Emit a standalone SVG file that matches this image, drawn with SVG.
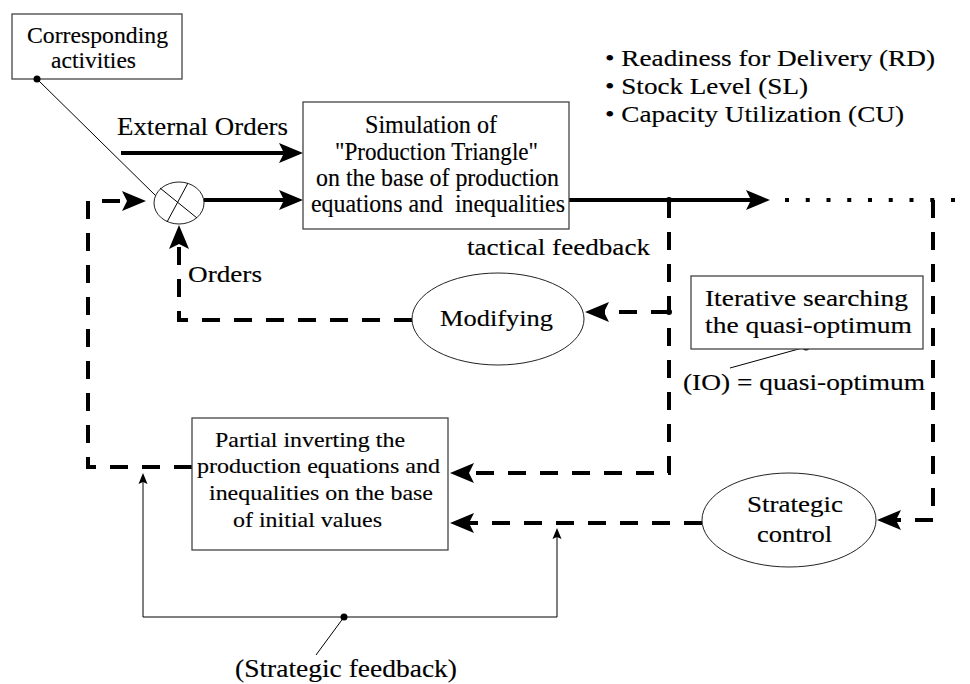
<svg xmlns="http://www.w3.org/2000/svg" width="970" height="684" viewBox="0 0 970 684">
<style>
text{font-family:"Liberation Serif","Times New Roman",serif;fill:#000;stroke:#000;stroke-width:0.15;}
.box{fill:#fff;stroke:#444;stroke-width:1.3;}
.ell{fill:#fff;stroke:#222;stroke-width:1;}
.thick{fill:none;stroke:#000;stroke-width:4;}
.dash{fill:none;stroke:#000;stroke-width:4;stroke-dasharray:18 14;}
.dot{fill:none;stroke:#000;stroke-width:4;stroke-dasharray:4 16.75;}
.thin{fill:none;stroke:#000;stroke-width:1;}
</style>
<defs>
<marker id="ah" markerUnits="userSpaceOnUse" markerWidth="26" markerHeight="22" refX="14" refY="10" orient="auto" overflow="visible">
<path d="M0,0 L24,10 L0,20 L5,10 z" fill="#000"/>
</marker>
<marker id="sh" markerUnits="userSpaceOnUse" markerWidth="12" markerHeight="10" refX="8" refY="4.5" orient="auto" overflow="visible">
<path d="M0,0 L11,4.5 L0,9 L2,4.5 z" fill="#000"/>
</marker>
</defs>
<rect width="970" height="684" fill="#fff"/>

<g id="connectors">
<line class="thin" x1="37" y1="79" x2="157" y2="197"/>
<line class="thick" x1="121" y1="153" x2="293" y2="153" marker-end="url(#ah)"/>
<line class="thick" x1="204" y1="200" x2="293" y2="200" marker-end="url(#ah)"/>
<line class="thick" x1="569" y1="200" x2="760" y2="200" marker-end="url(#ah)"/>
<line class="dot" x1="785" y1="200" x2="960" y2="200"/>
<circle cx="669" cy="200" r="3" fill="#000"/>
<polyline class="dash" points="669,200 669,473 460,473" marker-end="url(#ah)"/>
<circle cx="669" cy="312" r="3" fill="#000"/>
<line class="dash" x1="669" y1="312" x2="595" y2="312" marker-end="url(#ah)"/>
<polyline class="dash" points="933,200 933,520 887,520" marker-end="url(#ah)"/>
<line class="dash" x1="702" y1="523" x2="460" y2="523" marker-end="url(#ah)"/>
<polyline class="dash" points="412,320 179,320 179,235" marker-end="url(#ah)"/>
<polyline class="dash" points="192,467 88,467 88,201 136,201" marker-end="url(#ah)"/>
<polyline class="thin" points="143,478 143,617 557,617 557,531" marker-end="url(#sh)"/>
<line class="thin" x1="143" y1="478" x2="143" y2="476" marker-end="url(#sh)"/>
<circle cx="344" cy="617" r="3.5" fill="#000"/>
<line class="thin" x1="344" y1="617" x2="316" y2="655"/>
<circle cx="806" cy="347" r="3.5" fill="#000"/>
<line class="thin" x1="806" y1="347" x2="730" y2="368"/>
</g>

<g id="corresponding">
<rect class="box" x="12" y="14" width="170" height="65"/>
<circle cx="37" cy="79" r="3.5" fill="#000"/>
<text x="27" y="43" font-size="23" textLength="141" lengthAdjust="spacingAndGlyphs">Corresponding</text>
<text x="51" y="68" font-size="23" textLength="85" lengthAdjust="spacingAndGlyphs">activities</text>
</g>

<g id="external-orders">
<text x="117" y="135" font-size="26" textLength="171" lengthAdjust="spacingAndGlyphs">External Orders</text>
</g>

<g id="mixer">
<ellipse class="ell" cx="179" cy="203" rx="25" ry="21"/>
<line class="thin" x1="160" y1="188" x2="197" y2="218"/>
<line class="thin" x1="188" y1="183" x2="167" y2="222"/>
</g>

<g id="simulation">
<rect class="box" x="303" y="102" width="266" height="127"/>
<text x="365" y="133" font-size="25" textLength="132" lengthAdjust="spacingAndGlyphs">Simulation of</text>
<text x="335" y="160" font-size="25" textLength="203" lengthAdjust="spacingAndGlyphs">"Production Triangle"</text>
<text x="316" y="186" font-size="25" textLength="243" lengthAdjust="spacingAndGlyphs">on the base of production</text>
<text x="311" y="212" font-size="25" textLength="254" lengthAdjust="spacingAndGlyphs" xml:space="preserve">equations and  inequalities</text>
</g>

<g id="outputs">
<text x="605" y="66" font-size="24" textLength="330" lengthAdjust="spacingAndGlyphs">• Readiness for Delivery (RD)</text>
<text x="605" y="94" font-size="24" textLength="203" lengthAdjust="spacingAndGlyphs">• Stock Level (SL)</text>
<text x="605" y="122" font-size="24" textLength="299" lengthAdjust="spacingAndGlyphs">• Capacity Utilization (CU)</text>
</g>

<g id="tactical-label">
<text x="467" y="255" font-size="24" textLength="183" lengthAdjust="spacingAndGlyphs">tactical feedback</text>
</g>

<g id="orders-label">
<text x="188" y="282" font-size="24" textLength="74" lengthAdjust="spacingAndGlyphs">Orders</text>
</g>

<g id="modifying">
<ellipse class="ell" cx="498" cy="319" rx="86" ry="46"/>
<text x="440" y="326" font-size="24" textLength="113" lengthAdjust="spacingAndGlyphs">Modifying</text>
</g>

<g id="iterative">
<rect class="box" x="691" y="276" width="232" height="73"/>
<text x="705" y="306" font-size="24" textLength="203" lengthAdjust="spacingAndGlyphs">Iterative searching</text>
<text x="705" y="333" font-size="24" textLength="207" lengthAdjust="spacingAndGlyphs">the quasi-optimum</text>
</g>

<g id="io-label">
<text x="683" y="390" font-size="24" textLength="242" lengthAdjust="spacingAndGlyphs">(IO) = quasi-optimum</text>
</g>

<g id="partial">
<rect class="box" x="192" y="418" width="256" height="132"/>
<text x="215" y="447" font-size="22" textLength="190" lengthAdjust="spacingAndGlyphs">Partial inverting the</text>
<text x="197" y="473" font-size="22" textLength="243" lengthAdjust="spacingAndGlyphs">production equations and</text>
<text x="209" y="500" font-size="22" textLength="224" lengthAdjust="spacingAndGlyphs">inequalities on the base</text>
<text x="233" y="527" font-size="22" textLength="149" lengthAdjust="spacingAndGlyphs">of initial values</text>
</g>

<g id="strategic">
<ellipse class="ell" cx="789" cy="520" rx="87" ry="47"/>
<text x="747" y="512" font-size="24" textLength="96" lengthAdjust="spacingAndGlyphs">Strategic</text>
<text x="757" y="542" font-size="24" textLength="75" lengthAdjust="spacingAndGlyphs">control</text>
</g>

<g id="strategic-feedback-label">
<text x="235" y="677" font-size="25" textLength="222" lengthAdjust="spacingAndGlyphs">(Strategic feedback)</text>
</g>
</svg>
